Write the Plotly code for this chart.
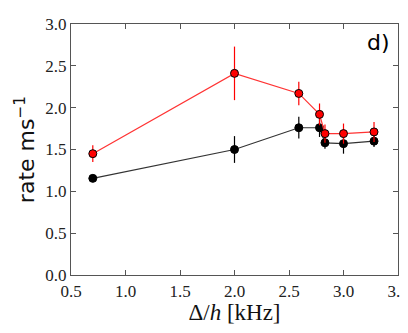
import plotly.graph_objects as go

delta = [0.7, 2.0, 2.59, 2.78, 2.83, 3.0, 3.28]
red_rate = [1.45, 2.41, 2.17, 1.92, 1.69, 1.69, 1.71]
red_err = [0.10, 0.32, 0.14, 0.13, 0.11, 0.12, 0.12]
black_rate = [1.155, 1.50, 1.76, 1.76, 1.58, 1.57, 1.60]
black_err = [0.03, 0.16, 0.13, 0.11, 0.07, 0.12, 0.07]

fig = go.Figure()
fig.add_trace(go.Scatter(
    x=delta, y=black_rate, mode="lines+markers",
    line=dict(color="#333333", width=1.2),
    marker=dict(color="black", size=8, line=dict(color="black", width=1)),
    error_y=dict(type="data", array=black_err, color="black", thickness=1.2, width=0),
))
fig.add_trace(go.Scatter(
    x=delta, y=red_rate, mode="lines+markers",
    line=dict(color="#ff3333", width=1.2),
    marker=dict(color="red", size=8, line=dict(color="black", width=1)),
    error_y=dict(type="data", array=red_err, color="red", thickness=1.2, width=0),
))

serif = "Liberation Serif"
axis = dict(showgrid=False, zeroline=False, showline=True, linecolor="#555555",
            linewidth=1.2, mirror="ticks", ticks="inside", ticklen=5, automargin=False,
            tickcolor="#555555", tickfont=dict(family=serif, size=17, color="#222222"))

fig.update_layout(
    width=408, height=333,
    margin=dict(l=63, r=18, t=16, b=66),
    plot_bgcolor="white", paper_bgcolor="white",
    showlegend=False,
    xaxis=dict(range=[0.5, 3.5], dtick=0.5, tickformat=".1f",
               title=dict(text="Δ/<i>h</i> [kHz]", font=dict(family=serif, size=23, color="#111111"),
                          standoff=2), **axis),
    yaxis=dict(range=[0, 3.0], dtick=0.5, tickformat=".1f",
               title=dict(text="rate ms<sup>−1</sup>", font=dict(family="DejaVu Sans", size=22, color="#111111"),
                          standoff=4), **axis),
    annotations=[dict(text="d)", showarrow=False, xref="paper", yref="paper",
                      x=(370 - 63) / 327, y=(267 - 34) / 251, xanchor="center", yanchor="middle",
                      font=dict(family="DejaVu Sans", size=22, color="black"))],
)

fig.write_html("out.html")
